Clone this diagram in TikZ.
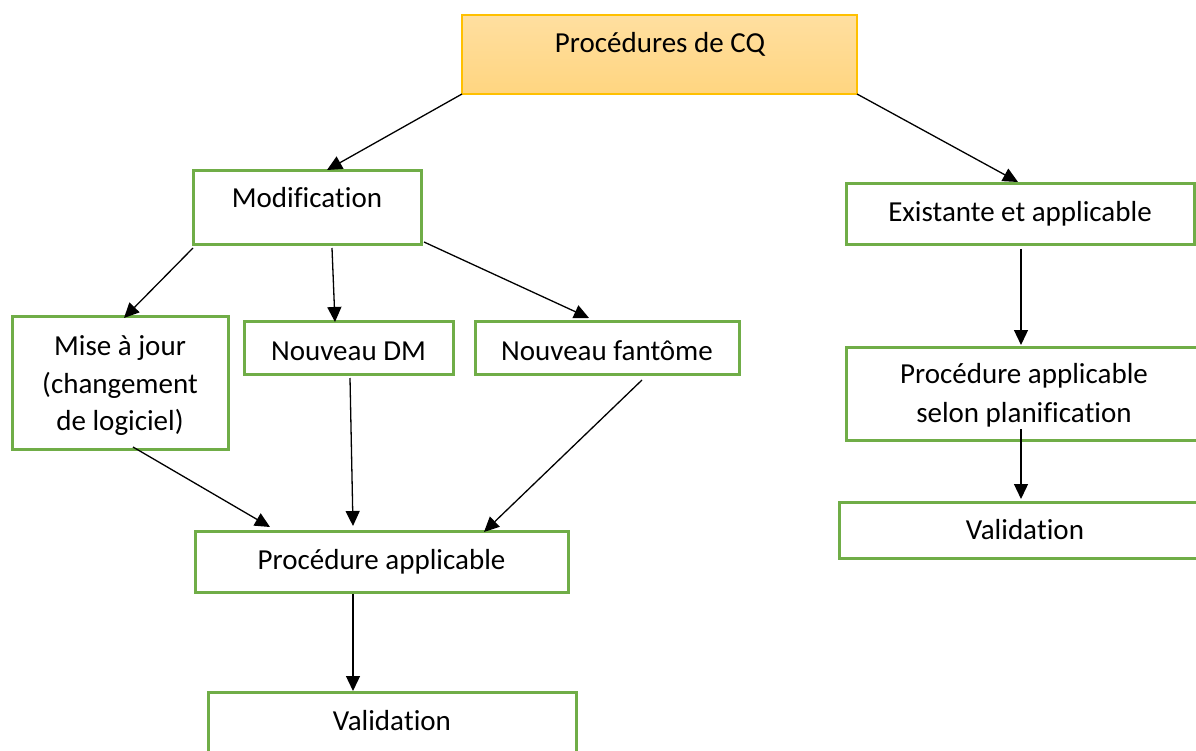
\documentclass[tikz,border=0pt]{standalone}
\usepackage{fontspec}
\setmainfont[Ligatures={TeX,NoCommon}]{Carlito}
\usetikzlibrary{arrows.meta}

% zero kern that keeps two letters from being joined into a ligature
\newcommand\nolig{\kern0pt }

\definecolor{boxgreen}{RGB}{112,173,71}
\definecolor{cqborder}{RGB}{255,192,0}
\definecolor{cqtop}{RGB}{255,223,160}
\definecolor{cqbottom}{RGB}{255,213,128}

\tikzset{
  box/.style={draw=boxgreen, line width=3pt, fill=white, inner sep=0pt,
              outer sep=0pt, anchor=north west},
  headbox/.style={draw=cqborder, line width=1.5pt, top color=cqtop,
              bottom color=cqbottom, inner sep=0pt, outer sep=0pt, anchor=north west},
  lbl/.style={anchor=base, inner sep=0pt, outer sep=0pt,
              font=\fontsize{29}{38}\selectfont},
  arr/.style={line width=1.3pt, -{Triangle[length=15pt,width=14pt]}},
}

\begin{document}
\begin{tikzpicture}[x=1pt,y=-1pt]
\useasboundingbox (0,0) rectangle (1196,751);
\clip (0,0) rectangle (1196,751);

% boxes
\node[headbox, minimum width=395pt, minimum height=79pt] (cq) at (462,15) {};
\node[box, minimum width=228pt, minimum height=74pt] (mod) at (193,171) {};
\node[box, minimum width=348pt, minimum height=61pt] (exist) at (846,184) {};
\node[box, minimum width=216pt, minimum height=133pt] (mise) at (12,316) {};
\node[box, minimum width=209pt, minimum height=53pt] (dm) at (244,321) {};
\node[box, minimum width=264pt, minimum height=53pt] (fant) at (475,321) {};
\node[box, minimum width=400pt, minimum height=93pt] (procR) at (846,347) {};
\node[box, minimum width=400pt, minimum height=56pt] (valR) at (839,502) {};
\node[box, minimum width=373pt, minimum height=61pt] (procL) at (195,531) {};
\node[box, minimum width=368pt, minimum height=90pt] (valL) at (208,692) {};

% labels
\node[lbl] (cqtxt) at (660,53) {Procédures de CQ};
\node[lbl] (modtxt) at (307,208) {Modif\nolig ica\nolig tion};
\node[lbl] (existtxt) at (1020,222) {Existante et applicable};
\node[lbl] (misea) at (120,355) {Mise à jour};
\node[lbl] (miseb) at (120,393) {(changement};
\node[lbl] (misec) at (120,430) {de logiciel)};
\node[lbl] (dmtxt) at (348.5,360) {Nouveau DM};
\node[lbl] (fanttxt) at (607,360) {Nouveau fantôme};
\node[lbl] (procRa) at (1024,383) {Procédure applicable};
\node[lbl] (procRb) at (1024,422) {selon planif\nolig ica\nolig tion};
\node[lbl] (valRtxt) at (1025,539) {Valida\nolig tion};
\node[lbl] (procLtxt) at (381.5,569) {Procédure applicable};
\node[lbl] (valLtxt) at (392,730) {Valida\nolig tion};

% connector ends
\coordinate (e1) at (327,170);
\coordinate (e2) at (1018,182);
\coordinate (s3) at (193,248);
\coordinate (e3) at (124,318);
\coordinate (s4) at (332,248);
\coordinate (e4) at (335,322);
\coordinate (s5) at (424,242);
\coordinate (e5) at (589,318);
\coordinate (s6) at (1021,249);
\coordinate (e6) at (1021,345);
\coordinate (s7) at (133,447);
\coordinate (e7) at (270,527);
\coordinate (s8) at (350,378);
\coordinate (e8) at (353,526);
\coordinate (s9) at (642,380);
\coordinate (e9) at (484,532);
\coordinate (s10) at (353,594);
\coordinate (e10) at (353,691);
\coordinate (s11) at (1021,429);
\coordinate (e11) at (1021,499);

% connectors
\draw[arr] (cq.south west) -- (e1);
\draw[arr] (cq.south east) -- (e2);
\draw[arr] (s3) -- (e3);
\draw[arr] (s4) -- (e4);
\draw[arr] (s5) -- (e5);
\draw[arr] (s6) -- (e6);
\draw[arr] (s7) -- (e7);
\draw[arr] (s8) -- (e8);
\draw[arr] (s9) -- (e9);
\draw[arr] (s10) -- (e10);
\draw[arr] (s11) -- (e11);
\end{tikzpicture}
\end{document}
